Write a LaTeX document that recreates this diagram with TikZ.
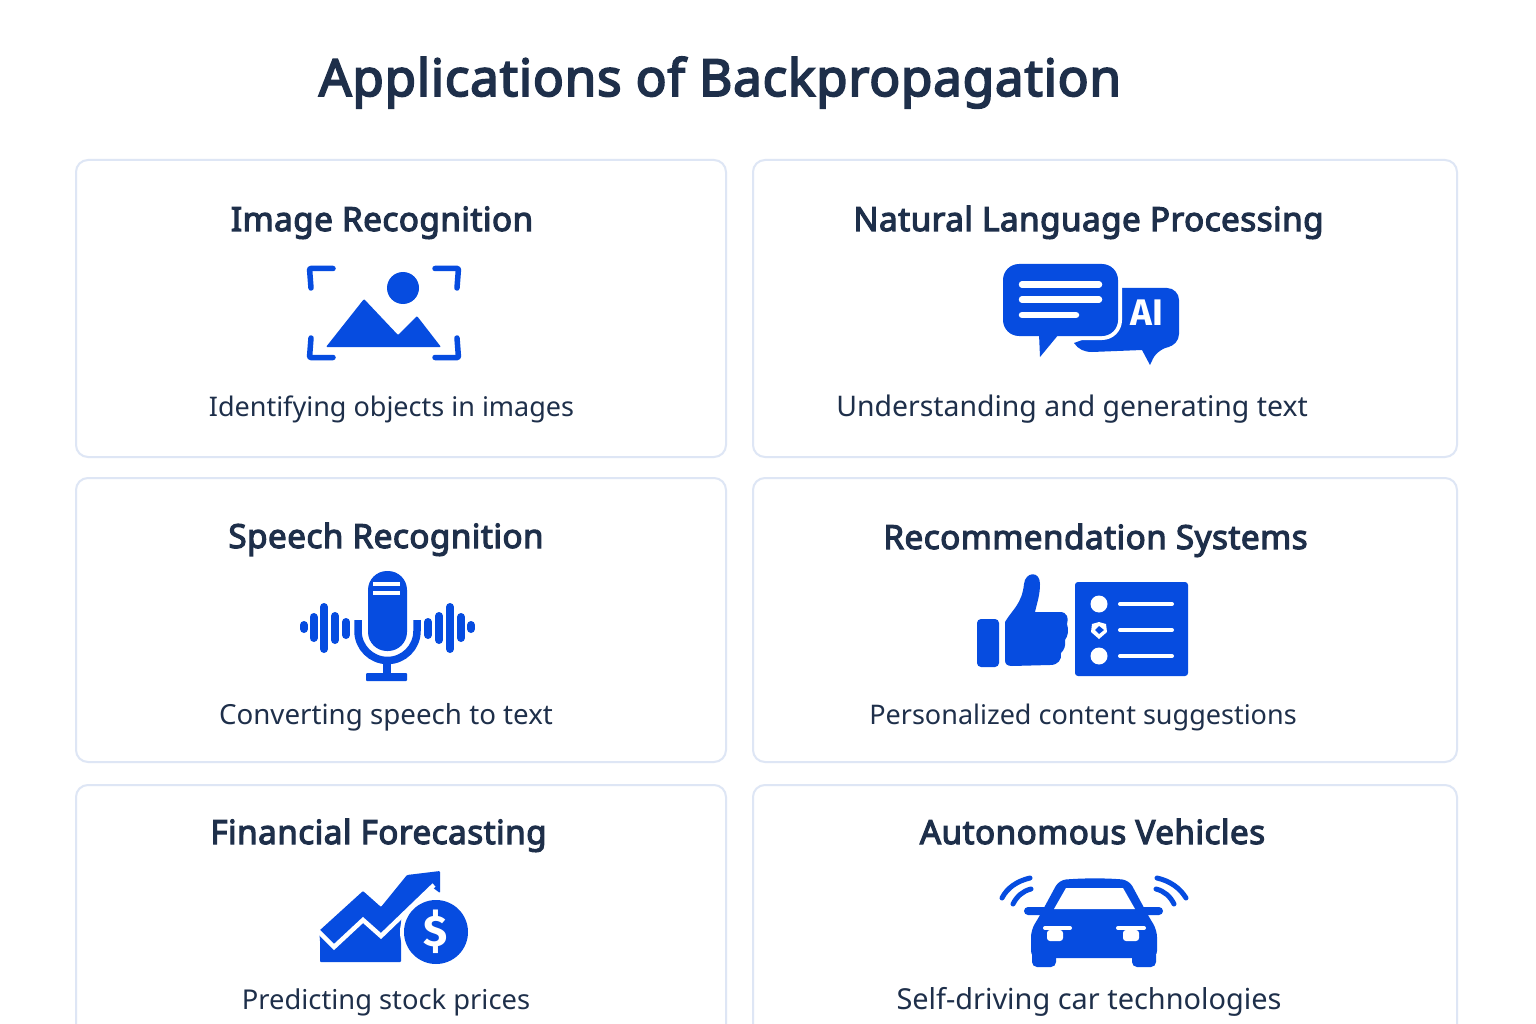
\documentclass[tikz,border=0pt]{standalone}
\usepackage{fontspec}
\setmainfont{Noto Sans}
\newfontfamily\headfont[FakeBold=3.5,LetterSpace=1.5]{Noto Sans}
\newfontfamily\iconfont{Fira Sans}
\usetikzlibrary{positioning,calc}
\definecolor{iconblue}{RGB}{6,76,224}
\definecolor{inknavy}{RGB}{30,47,74}
\definecolor{cardline}{RGB}{222,230,245}
\tikzset{
  card/.style={draw=cardline, line width=2pt, rounded corners=12pt, fill=white, inner sep=0pt},
  headline/.style={text=inknavy, inner sep=0pt, anchor=base, font=\headfont\fontsize{51.2}{60}\selectfont},
  cardhead/.style={text=inknavy, inner sep=0pt, anchor=base, font=\headfont\fontsize{33.2}{40}\selectfont},
  carddesc/.style={text=inknavy, inner sep=0pt, anchor=base, font=\fontsize{#1}{36}\selectfont},
  icon/.style={fill=iconblue, draw=none},
  iconline/.style={draw=iconblue, line cap=round, line join=round},
  cutline/.style={draw=white, line cap=round, line join=round}
}
\begin{document}
\begin{tikzpicture}[x=1pt,y=-1pt]
    \useasboundingbox (0,0) rectangle (1536,1024);
    \fill[white] (0,0) rectangle (1536,1024);
    \node[headline] (title) at (720,96) {Applications of Backpropagation};

    % Cards
    \node[card, minimum width=650pt, minimum height=297pt] (imgcard) at (401,308.5) {};
    \node[card, minimum width=704pt, minimum height=297pt] (nlpcard) at (1105,308.5) {};
    \node[card, minimum width=650pt, minimum height=284pt] (speechcard) at (401,620) {};
    \node[card, minimum width=704pt, minimum height=284pt] (reccard) at (1105,620) {};
    \node[card, minimum width=650pt, minimum height=320pt] (fincard) at (401,945) {};
    \node[card, minimum width=704pt, minimum height=320pt] (carcard) at (1105,945) {};

    % Card texts
    \node[cardhead] (imghead) at (382,231) {Image Recognition};
    \node[carddesc=27] (imgdesc) at (391.5,416) {Identifying objects in images};
    \node[cardhead] (nlphead) at (1088.5,231) {Natural Language Processing};
    \node[carddesc=28.4] (nlpdesc) at (1072,416) {Understanding and generating text};
    \node[cardhead] (speechhead) at (386,548) {Speech Recognition};
    \node[carddesc=27.7] (speechdesc) at (386,724) {Converting speech to text};
    \node[cardhead] (rechead) at (1095.5,549) {Recommendation Systems};
    \node[carddesc=27] (recdesc) at (1083,724) {Personalized content suggestions};
    \node[cardhead] (finhead) at (378.5,844) {Financial Forecasting};
    \node[carddesc=27.3] (findesc) at (386,1009) {Predicting stock prices};
    \node[cardhead] (carhead) at (1092.5,844) {Autonomous Vehicles};
    \node[carddesc=28.9] (cardesc) at (1089,1009) {Self-driving car technologies};

    % Image icon
    \draw[iconline, line width=5.5pt, line cap=round, rounded corners=1pt]
        (333,268.5) -- (309.5,268.5) -- (311,288)
        (435,268.5) -- (458.5,268.5) -- (457,288)
        (311,338) -- (309.5,357.5) -- (333,357.5)
        (457,338) -- (458.5,357.5) -- (435,357.5);
    \fill[icon] (403,288) circle[radius=16];
    \fill[icon, rounded corners=1pt] (326,347) -- (364,299) -- (398,335) -- (417,316) -- (441,347) -- cycle;

    % Chat icon
    \fill[icon, rounded corners=12pt] (1110,288) -- (1179,288) -- (1179,346) -- (1158,348) [sharp corners] -- (1150,365) -- (1142,350) -- (1092,352)
        .. controls (1084,352) and (1078,349) .. (1074,343) -- (1110,330) -- cycle;
    \path[icon, draw=white, line width=8pt, rounded corners=16pt] (1003,264) -- (1118,264) -- (1118,336) -- (1003,336) -- cycle;
    \fill[icon, rounded corners=16pt] (1003,264) -- (1118,264) -- (1118,336) -- (1003,336) -- cycle;
    \fill[icon] (1039,334) -- (1040,357) -- (1059,334) -- cycle;
    \foreach \yy/\xx in {284.5/1099, 299.5/1099, 315/1076}
        \draw[cutline, line width=6.5pt] (1022,\yy) -- (\xx,\yy);
    \node[text=white, inner sep=0pt, font=\iconfont\bfseries\fontsize{37}{37}\selectfont] (ailabel) at (1147,313) {AI};

    % Microphone icon
    \fill[icon, rounded corners=19pt] (368,571) rectangle (407,651);
    \foreach \yy in {584,593}
        \draw[white, line width=4.5pt] (373,\yy) -- (400,\yy);
    \draw[iconblue, line width=7.5pt] (358,620) -- (358,631) arc[start angle=180, end angle=0, radius=29.5] -- (417,620);
    \draw[iconblue, line width=8pt] (387,662) -- (387,675);
    \fill[icon, rounded corners=1pt] (366,673) rectangle (407,681);
    \foreach \xx/\ya/\yb in {304/625/629, 313.5/617/638, 324/607/649, 335/616/640, 346/622/635,
                             428/622/635, 439/616/640, 450/607/649, 461/617/638, 471/625/629}
        \draw[iconline, line width=8pt] (\xx,\ya) -- (\xx,\yb);

    % Thumb and list icon
    \fill[icon, rounded corners=4pt] (977,619) rectangle (999,667);
    \fill[icon] (1005,622) .. controls (1012,610) and (1022,604) .. (1024,584)
        .. controls (1025,572) and (1040,570) .. (1040,584)
        .. controls (1040,595) and (1037,603) .. (1035,612) -- (1060,612)
        .. controls (1067,612) and (1069,618) .. (1067,624)
        .. controls (1069,630) and (1068,636) .. (1065,640)
        .. controls (1066,646) and (1064,650) .. (1061,653)
        .. controls (1062,660) and (1058,665) .. (1050,665) -- (1012,666)
        .. controls (1007,666) and (1005,664) .. (1005,660) -- cycle;
    \fill[icon, rounded corners=3pt] (1075,582) rectangle (1188,676);
    \foreach \yy in {604,656}
        \fill[white] (1099,\yy) circle[radius=8.5];
    \fill[white] (1099,622) -- (1106,624) -- (1107,632) -- (1099,639) -- (1091,632) -- (1092,624) -- cycle;
    \fill[icon] (1099,626) -- (1104,630) -- (1099,634) -- (1095,630) -- cycle;
    \foreach \yy in {604,630,656}
        \draw[cutline, line width=4pt] (1120,\yy) -- (1172,\yy);

    % Finance icon
    \fill[icon, rounded corners=1pt] (319,931) -- (363,891) -- (381,907) -- (407,875) -- (440,871) -- (440,893) -- (432,887)
        -- (401,919) -- (401,962) -- (320,962) -- (320,940) -- cycle;
    \draw[white, line width=4.5pt] (317,930) -- (334,947) -- (363,920) -- (381,936) -- (434,885);
    \fill[white] (436,932) circle[radius=36];
    \fill[icon] (436,932) circle[radius=32];
    \node[text=white, inner sep=0pt, font=\iconfont\bfseries\fontsize{44}{44}\selectfont] (dollar) at (436,932) {\$};

    % Car icon
    \fill[icon, rounded corners=4pt] (1024,907) rectangle (1163,915);
    \fill[icon, rounded corners=7pt] (1059,880) .. controls (1085,878) and (1105,878) .. (1129,880) -- (1149,917) -- (1157,930)
        -- (1157,958) -- (1031,958) -- (1031,930) -- (1039,917) -- cycle;
    \fill[icon, rounded corners=5pt] (1032,950) rectangle (1056,967);
    \fill[icon, rounded corners=5pt] (1132,950) rectangle (1156,967);
    \fill[white] (1066,888) -- (1123,888) -- (1135,909) -- (1054,909) -- cycle;
    \draw[cutline, line width=4pt] (1045,928) -- (1070,928) (1118,928) -- (1144,928);
    \fill[white, rounded corners=3pt] (1047,930) rectangle (1063,941);
    \fill[white, rounded corners=3pt] (1123,930) rectangle (1139,941);
    \draw[iconline, line width=5pt] (1030,878) .. controls (1017,881) and (1007,888) .. (1002,898);
    \draw[iconline, line width=5pt] (1031,889) .. controls (1023,891) and (1017,896) .. (1013,904);
    \draw[iconline, line width=5pt] (1157,878) .. controls (1170,881) and (1180,888) .. (1186,898);
    \draw[iconline, line width=5pt] (1156,889) .. controls (1164,891) and (1170,896) .. (1174,904);
\end{tikzpicture}
\end{document}
